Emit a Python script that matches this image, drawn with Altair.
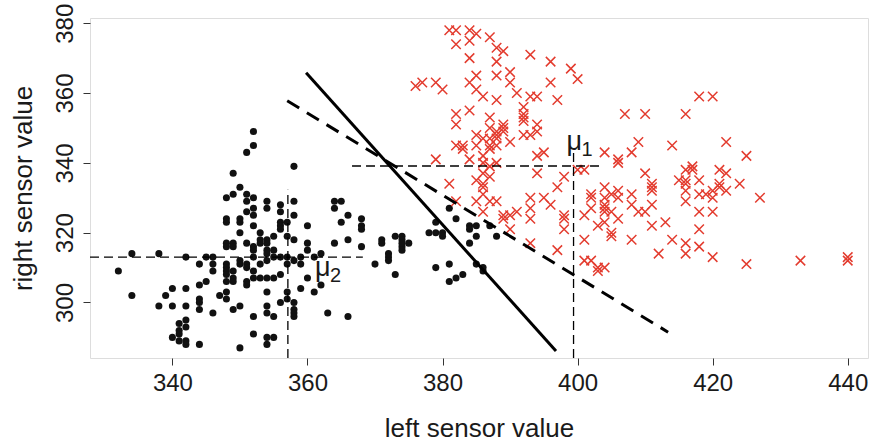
import altair as alt
import pandas as pd

# class 2 (black dots)
black_x = [352,352,351,349,350,349,348,351,351,352,354,356,358,358,351,352,354,356,352,348,348,350,350,356,356,356,357,352,350,353,355,357,353,354,
           334,338,342,345,346,348,349,348,349,351,352,352,353,354,354,354,355,355,356,352,344,346,348,348,348,348,349,349,349,350,350,351,351,352,353,354,357,332,346,348,351,351,352,353,354,355,356,345,344,340,342,334,339,347,348,348,354,357,356,357,344,344,338,340,342,344,350,349,346,354,354,352,355,341,342,341,342,341,340,341,342,342,344,350,352,354,355,354,
           358,358,364,365,364,366,365,368,368,368,360,360,360,364,366,368,371,371,373,374,374,375,374,374,372,372,372,357,358,359,361,362,370,378,379,380,379,381,382,384,384,385,385,379,381,385,
           359,360,359,361,362,358,358,358,358,363,366,373,381,382,383,387,388,384,386,386,380,374]
black_y = [349,345,343,337,333,331,330,331,329,330,329,328,329,339,326,327,327,326,325,324,323,324,323,323,322,321,323,322,320,320,319,319,318,318,
           314,314,313,313,313,317,317,316,316,317,316,315,317,317,315,314,315,313,313,313,311,311,311,310,309,308,309,307,306,312,311,311,310,309,311,312,311,309,309,306,306,305,307,307,307,307,308,306,305,304,304,302,302,302,303,301,303,303,300,301,301,300,299,299,299,298,299,298,297,299,297,296,296,294,295,292,293,291,290,289,289,288,288,287,291,290,290,288,
           325,318,329,329,327,325,323,324,322,321,322,317,315,317,318,316,318,317,319,319,318,317,316,315,314,313,312,313,312,313,313,314,311,320,320,320,323,327,324,322,321,322,319,310,311,311,
           311,307,304,303,305,300,298,297,296,297,296,308,306,307,308,322,319,317,310,309,319,317]

# class 1 (red crosses)
red_x = [381,382,384,385,382,384,387,388,389,384,388,393,396,399,400,385,384,385,386,388,390,390,391,393,394,388,397,396,376,377,379,380,382,382,384,387,387,389,389,389,392,392,392,392,394,394,393,
         382,383,383,385,385,386,387,387,388,388,388,388,390,392,384,386,387,386,387,388,379,394,395,394,386,387,400,401,398,397,381,385,386,386,385,387,388,386,382,393,395,396,393,393,391,389,389,390,386,390,393,397,398,398,398,401,401,401,402,402,402,402,403,403,
         418,420,407,410,416,409,414,422,404,408,406,406,425,410,416,417,417,421,422,
         415,416,418,404,406,405,406,411,411,411,416,416,416,418,419,420,420,421,421,422,424,427,408,404,404,404,404,405,408,411,410,409,406,404,411,413,418,420,418,405,405,408,414,416,416,418,412,420,425,403,404,
         433,440,440]
red_y = [378,378,378,377,374,375,376,373,372,370,369,371,369,367,364,365,363,361,359,365,366,363,360,359,359,358,358,363,362,363,363,361,354,351,355,353,350,350,351,349,356,354,353,352,351,349,348,
         345,345,344,348,345,347,347,345,347,348,345,349,346,348,341,342,344,340,339,340,341,342,343,337,337,336,338,338,336,333,334,335,334,333,329,329,329,331,329,330,330,328,327,324,326,325,324,325,326,321,317,315,325,324,321,325,318,312,312,331,330,327,322,310,
         359,359,354,354,354,346,345,346,343,343,341,340,342,337,338,339,338,338,337,
         335,335,335,333,332,331,330,334,333,332,334,332,329,331,331,332,330,334,333,332,334,330,331,330,328,327,326,326,328,328,326,326,324,323,322,323,326,326,321,320,319,318,318,317,314,316,314,313,311,309,310,
         312,313,312]

# decision boundaries
solid_x = [359.8, 396.8]
solid_y = [365.8, 286.1]
dashed_x = [357.0, 413.4]
dashed_y = [357.8, 291.5]

# class means and their guide lines
mu1 = [399.4, 339.1]
mu2 = [357.1, 313.0]
mu1_h = [366.6, 403.3]
mu1_v = [284.1, 342.9]
mu2_h = [327.8, 368.2]
mu2_v = [284.1, 332.3]

x_ticks = [340, 360, 380, 400, 420, 440]
y_ticks = [300, 320, 340, 360, 380]
x_dom = [327.8, 443.0]
y_dom = [284.1, 381.5]

FONT = "Liberation Sans"

xs = alt.Scale(domain=x_dom, nice=False, zero=False)
ys = alt.Scale(domain=y_dom, nice=False, zero=False)

xax = alt.Axis(values=x_ticks, title="left sensor value", grid=False, tickSize=7,
               labelFontSize=24, titleFontSize=26, labelFont=FONT, titleFont=FONT,
               labelColor="#1a1a1a", titleColor="#1a1a1a", domain=False,
               tickColor="#333", labelPadding=6, titlePadding=20, titleFontWeight="normal")
yax = alt.Axis(values=y_ticks, title="right sensor value", grid=False, tickSize=7,
               labelFontSize=24, titleFontSize=26, labelFont=FONT, titleFont=FONT,
               labelColor="#1a1a1a", titleColor="#1a1a1a", domain=False,
               tickColor="#333", labelAngle=-90, labelAlign="center", labelBaseline="bottom",
               labelPadding=6, titlePadding=17, titleFontWeight="normal")

black_df = pd.DataFrame({"x": black_x, "y": black_y})
red_df = pd.DataFrame({"x": red_x, "y": red_y})

base_x = alt.X("x:Q", scale=xs, axis=xax)
base_y = alt.Y("y:Q", scale=ys, axis=yax)

dots = alt.Chart(black_df).mark_circle(color="#111", opacity=1, size=50).encode(x=base_x, y=base_y)

crosses = alt.Chart(red_df).mark_point(
    shape="M-1,-1L1,1M-1,1L1,-1", filled=False, color="#e33b2e", strokeWidth=1.5, size=90, opacity=1
).encode(x=alt.X("x:Q", scale=xs), y=alt.Y("y:Q", scale=ys))

def seg(xv, yv, **kw):
    df = pd.DataFrame({"x": xv, "y": yv})
    return alt.Chart(df).mark_line(color="black", **kw).encode(
        x=alt.X("x:Q", scale=xs), y=alt.Y("y:Q", scale=ys))

solid = seg(solid_x, solid_y, strokeWidth=3)
dashed = seg(dashed_x, dashed_y, strokeWidth=3, strokeDash=[14, 9])
g1 = seg(mu1_h, [mu1[1], mu1[1]], strokeWidth=1.3, strokeDash=[9, 5])
g2 = seg([mu1[0], mu1[0]], mu1_v, strokeWidth=1.3, strokeDash=[9, 5])
g3 = seg(mu2_h, [mu2[1], mu2[1]], strokeWidth=1.3, strokeDash=[9, 5])
g4 = seg([mu2[0], mu2[0]], mu2_v, strokeWidth=1.3, strokeDash=[9, 5])

def txt(pt, s, size, dx, dy):
    return alt.Chart(pd.DataFrame({"x": [pt[0]], "y": [pt[1]]})).mark_text(
        text=s, font=FONT, fontSize=size, align="left", baseline="alphabetic",
        dx=dx, dy=dy, color="#1a1a1a"
    ).encode(x=alt.X("x:Q", scale=xs), y=alt.Y("y:Q", scale=ys))

mu_txt1 = txt(mu1, "μ", 27, -7, -16)
sub1 = txt(mu1, "1", 20, 8, -10)
mu_txt2 = txt(mu2, "μ", 27, 27, 19)
sub2 = txt(mu2, "2", 20, 42, 25)

chart = alt.layer(dots, crosses, solid, dashed, g1, g2, g3, g4, mu_txt1, sub1, mu_txt2, sub2).properties(
    width=778, height=340,
    autosize=alt.AutoSizeParams(type="none"),
    padding={"left": 90, "top": 18, "right": 2, "bottom": 87},
).configure_view(stroke="#333", strokeWidth=1.3).configure(background="white")

chart.save("out.html", embed_options={"renderer": "svg", "actions": False})
